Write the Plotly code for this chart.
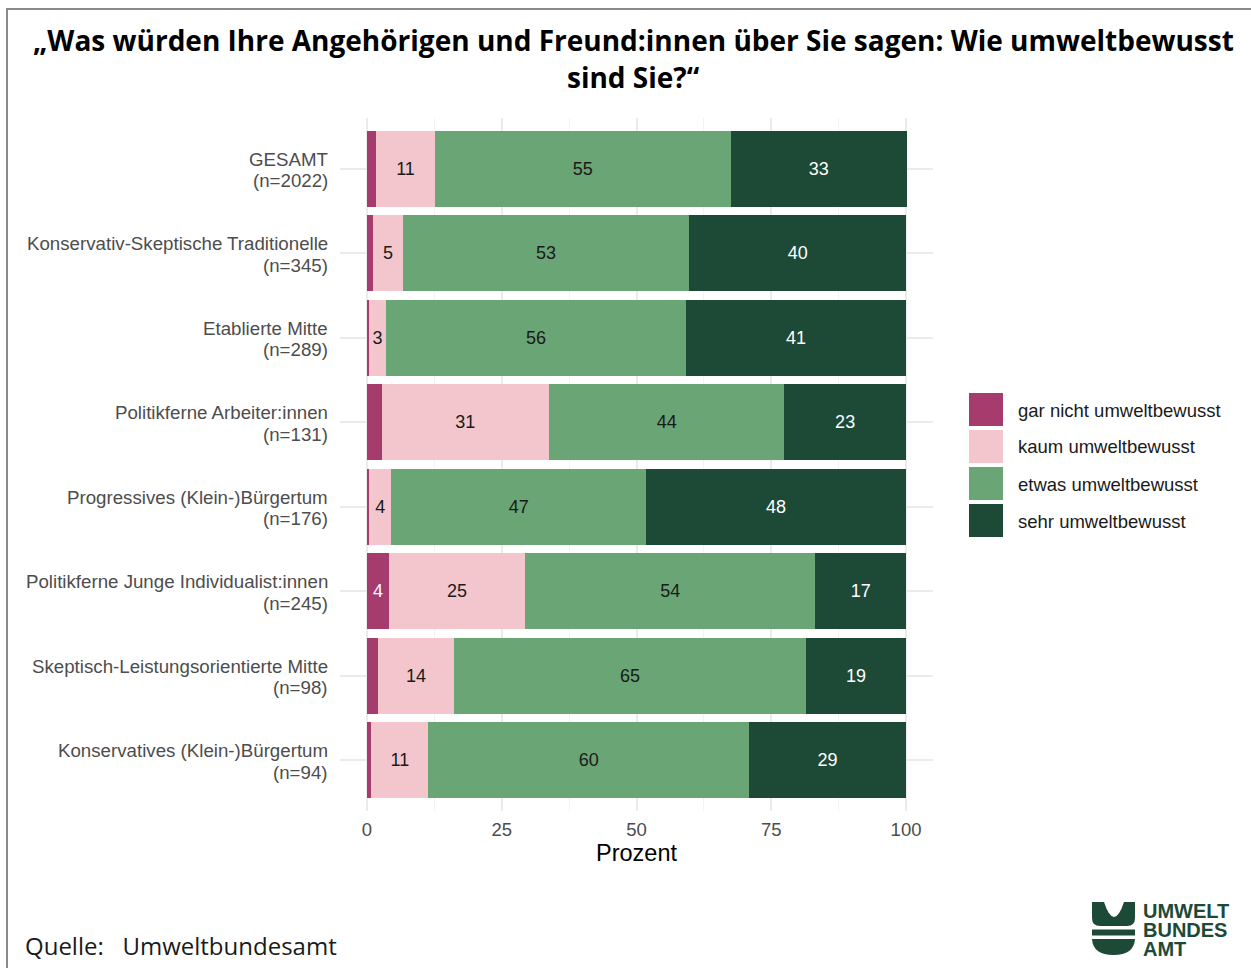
import plotly.graph_objects as go

group_names = [
    "GESAMT",
    "Konservativ-Skeptische Traditionelle",
    "Etablierte Mitte",
    "Politikferne Arbeiter:innen",
    "Progressives (Klein-)Bürgertum",
    "Politikferne Junge Individualist:innen",
    "Skeptisch-Leistungsorientierte Mitte",
    "Konservatives (Klein-)Bürgertum",
]
group_n = ["(n=2022)", "(n=345)", "(n=289)", "(n=131)", "(n=176)", "(n=245)", "(n=98)", "(n=94)"]
gar_nicht = [1.7, 1.2, 0.4, 2.7, 0.4, 4.1, 2.0, 0.8]
kaum = [10.9, 5.4, 3.1, 31.1, 4.1, 25.2, 14.2, 10.6]
etwas = [54.9, 53.2, 55.7, 43.6, 47.3, 53.9, 65.2, 59.5]
sehr = [32.6, 40.2, 40.8, 22.6, 48.2, 16.8, 18.6, 29.1]

series_names = ["gar nicht umweltbewusst", "kaum umweltbewusst",
                "etwas umweltbewusst", "sehr umweltbewusst"]
series_values = [gar_nicht, kaum, etwas, sehr]
colors = ["#A63B6E", "#F2C6CC", "#6AA575", "#1D4A37"]
text_colors = ["white", "#1a1a1a", "#1a1a1a", "white"]
x_ticks = [0, 25, 50, 75, 100]

W, H = 1251, 968
L, R, T, B = 340, 933, 118, 811


def px(x):
    return (x - L) / (R - L)


def py(y):
    return (B - y) / (B - T)


fig = go.Figure()
for name, vals, col, tcol in zip(series_names, series_values, colors, text_colors):
    labels = [str(round(v)) if v >= 3 else "" for v in vals]
    fig.add_trace(go.Bar(
        y=group_names, x=vals, name=name, orientation="h",
        marker=dict(color=col, line=dict(width=0)),
        text=labels, texttemplate="%{text}", textposition="inside",
        insidetextanchor="middle", textangle=0, constraintext="none",
        textfont=dict(family="Liberation Sans", size=18, color=tcol),
        showlegend=False, hoverinfo="x+name",
    ))

shapes = []
annotations = []

# category labels (two lines each)
for g, n in zip(group_names, group_n):
    for txt, shift in [(g, 9.5), (n, -11.8)]:
        annotations.append(dict(xref="paper", yref="y", x=px(330), y=g, yshift=shift,
                                text=txt, showarrow=False, xanchor="right", yanchor="middle",
                                font=dict(family="Liberation Sans", size=18.7, color="#4d4d4d")))

# custom legend
leg_tops = [393, 430, 467, 504]
for name, col, top in zip(series_names, colors, leg_tops):
    shapes.append(dict(type="rect", xref="paper", yref="paper",
                       x0=px(969), x1=px(1003), y0=py(top), y1=py(top + 33),
                       fillcolor=col, line=dict(width=0)))
    annotations.append(dict(xref="paper", yref="paper", x=px(1016), y=py(top + 17),
                            text=name, showarrow=False, xanchor="left", yanchor="middle",
                            font=dict(family="Liberation Sans", size=18.5, color="#1a1a1a")))

# border
shapes.append(dict(type="rect", xref="paper", yref="paper",
                   x0=px(7), x1=px(1270), y0=py(9), y1=py(990),
                   line=dict(color="#8a8a8a", width=2), fillcolor="rgba(0,0,0,0)"))

# logo icon
logo_col = "#1D4A37"


def P(x, y):
    return f"{px(x):.5f},{py(y):.5f}"


top_path = (f"M {P(1092,902)} L {P(1104,902)} Q {P(1114,932)} {P(1124,902)} "
            f"L {P(1135,902)} L {P(1135,918)} Q {P(1135,926)} {P(1127,926)} "
            f"L {P(1100,926)} Q {P(1092,926)} {P(1092,918)} Z")
band_path = f"M {P(1092,929.5)} L {P(1135,929.5)} L {P(1135,935.5)} L {P(1092,935.5)} Z"
bowl_path = (f"M {P(1092,939)} L {P(1135,939)} Q {P(1134,955)} {P(1113.5,955)} "
             f"Q {P(1093,955)} {P(1092,939)} Z")
for pth in [top_path, band_path, bowl_path]:
    shapes.append(dict(type="path", xref="paper", yref="paper", path=pth,
                       fillcolor=logo_col, line=dict(width=0)))
for txt, yc in [("UMWELT", 911), ("BUNDES", 930), ("AMT", 949)]:
    annotations.append(dict(xref="paper", yref="paper", x=px(1141), y=py(yc),
                            text=f"<b>{txt}</b>", showarrow=False, xanchor="left",
                            yanchor="middle",
                            font=dict(family="Liberation Sans", size=20, color=logo_col)))

# title (two lines)
for txt, yc in [("„Was würden Ihre Angehörigen und Freund:innen über Sie sagen: Wie umweltbewusst", 40),
                ("sind Sie?“", 77)]:
    annotations.append(dict(xref="paper", yref="paper", x=px(633), y=py(yc),
                            text=f"<b>{txt}</b>", showarrow=False, xanchor="center",
                            yanchor="middle",
                            font=dict(family="Open Sans", size=28, color="black")))

# source
annotations.append(dict(xref="paper", yref="paper", x=px(23), y=py(945),
                        text="Quelle:   Umweltbundesamt", showarrow=False,
                        xanchor="left", yanchor="middle",
                        font=dict(family="Open Sans", size=24, color="#1a1a1a")))

fig.update_layout(
    width=W, height=H,
    margin=dict(l=L, r=W - R, t=T, b=H - B, pad=0),
    barmode="stack", bargap=0.1,
    plot_bgcolor="white", paper_bgcolor="white",
    xaxis=dict(
        range=[-5, 105], tickvals=x_ticks, ticktext=[str(t) for t in x_ticks],
        showgrid=True, gridcolor="#EBEBEB", gridwidth=1.5, zeroline=False,
        minor=dict(dtick=12.5, tick0=0, showgrid=True, gridcolor="#F3F3F3", gridwidth=1),
        ticks="", ticklabelstandoff=5,
        tickfont=dict(family="Liberation Sans", size=18.5, color="#4d4d4d"),
        title=dict(text="Prozent", standoff=6,
                   font=dict(family="Liberation Sans", size=23.5, color="black")),
        showline=False,
    ),
    yaxis=dict(
        categoryorder="array", categoryarray=group_names,
        range=[7.6, -0.6], showgrid=True, gridcolor="#EBEBEB", gridwidth=1.5,
        ticks="", showticklabels=False,
        showline=False, zeroline=False,
    ),
    shapes=shapes, annotations=annotations,
)

fig.write_html("out.html", post_script="document.body.style.margin='0px';",
               config={"displayModeBar": False})
